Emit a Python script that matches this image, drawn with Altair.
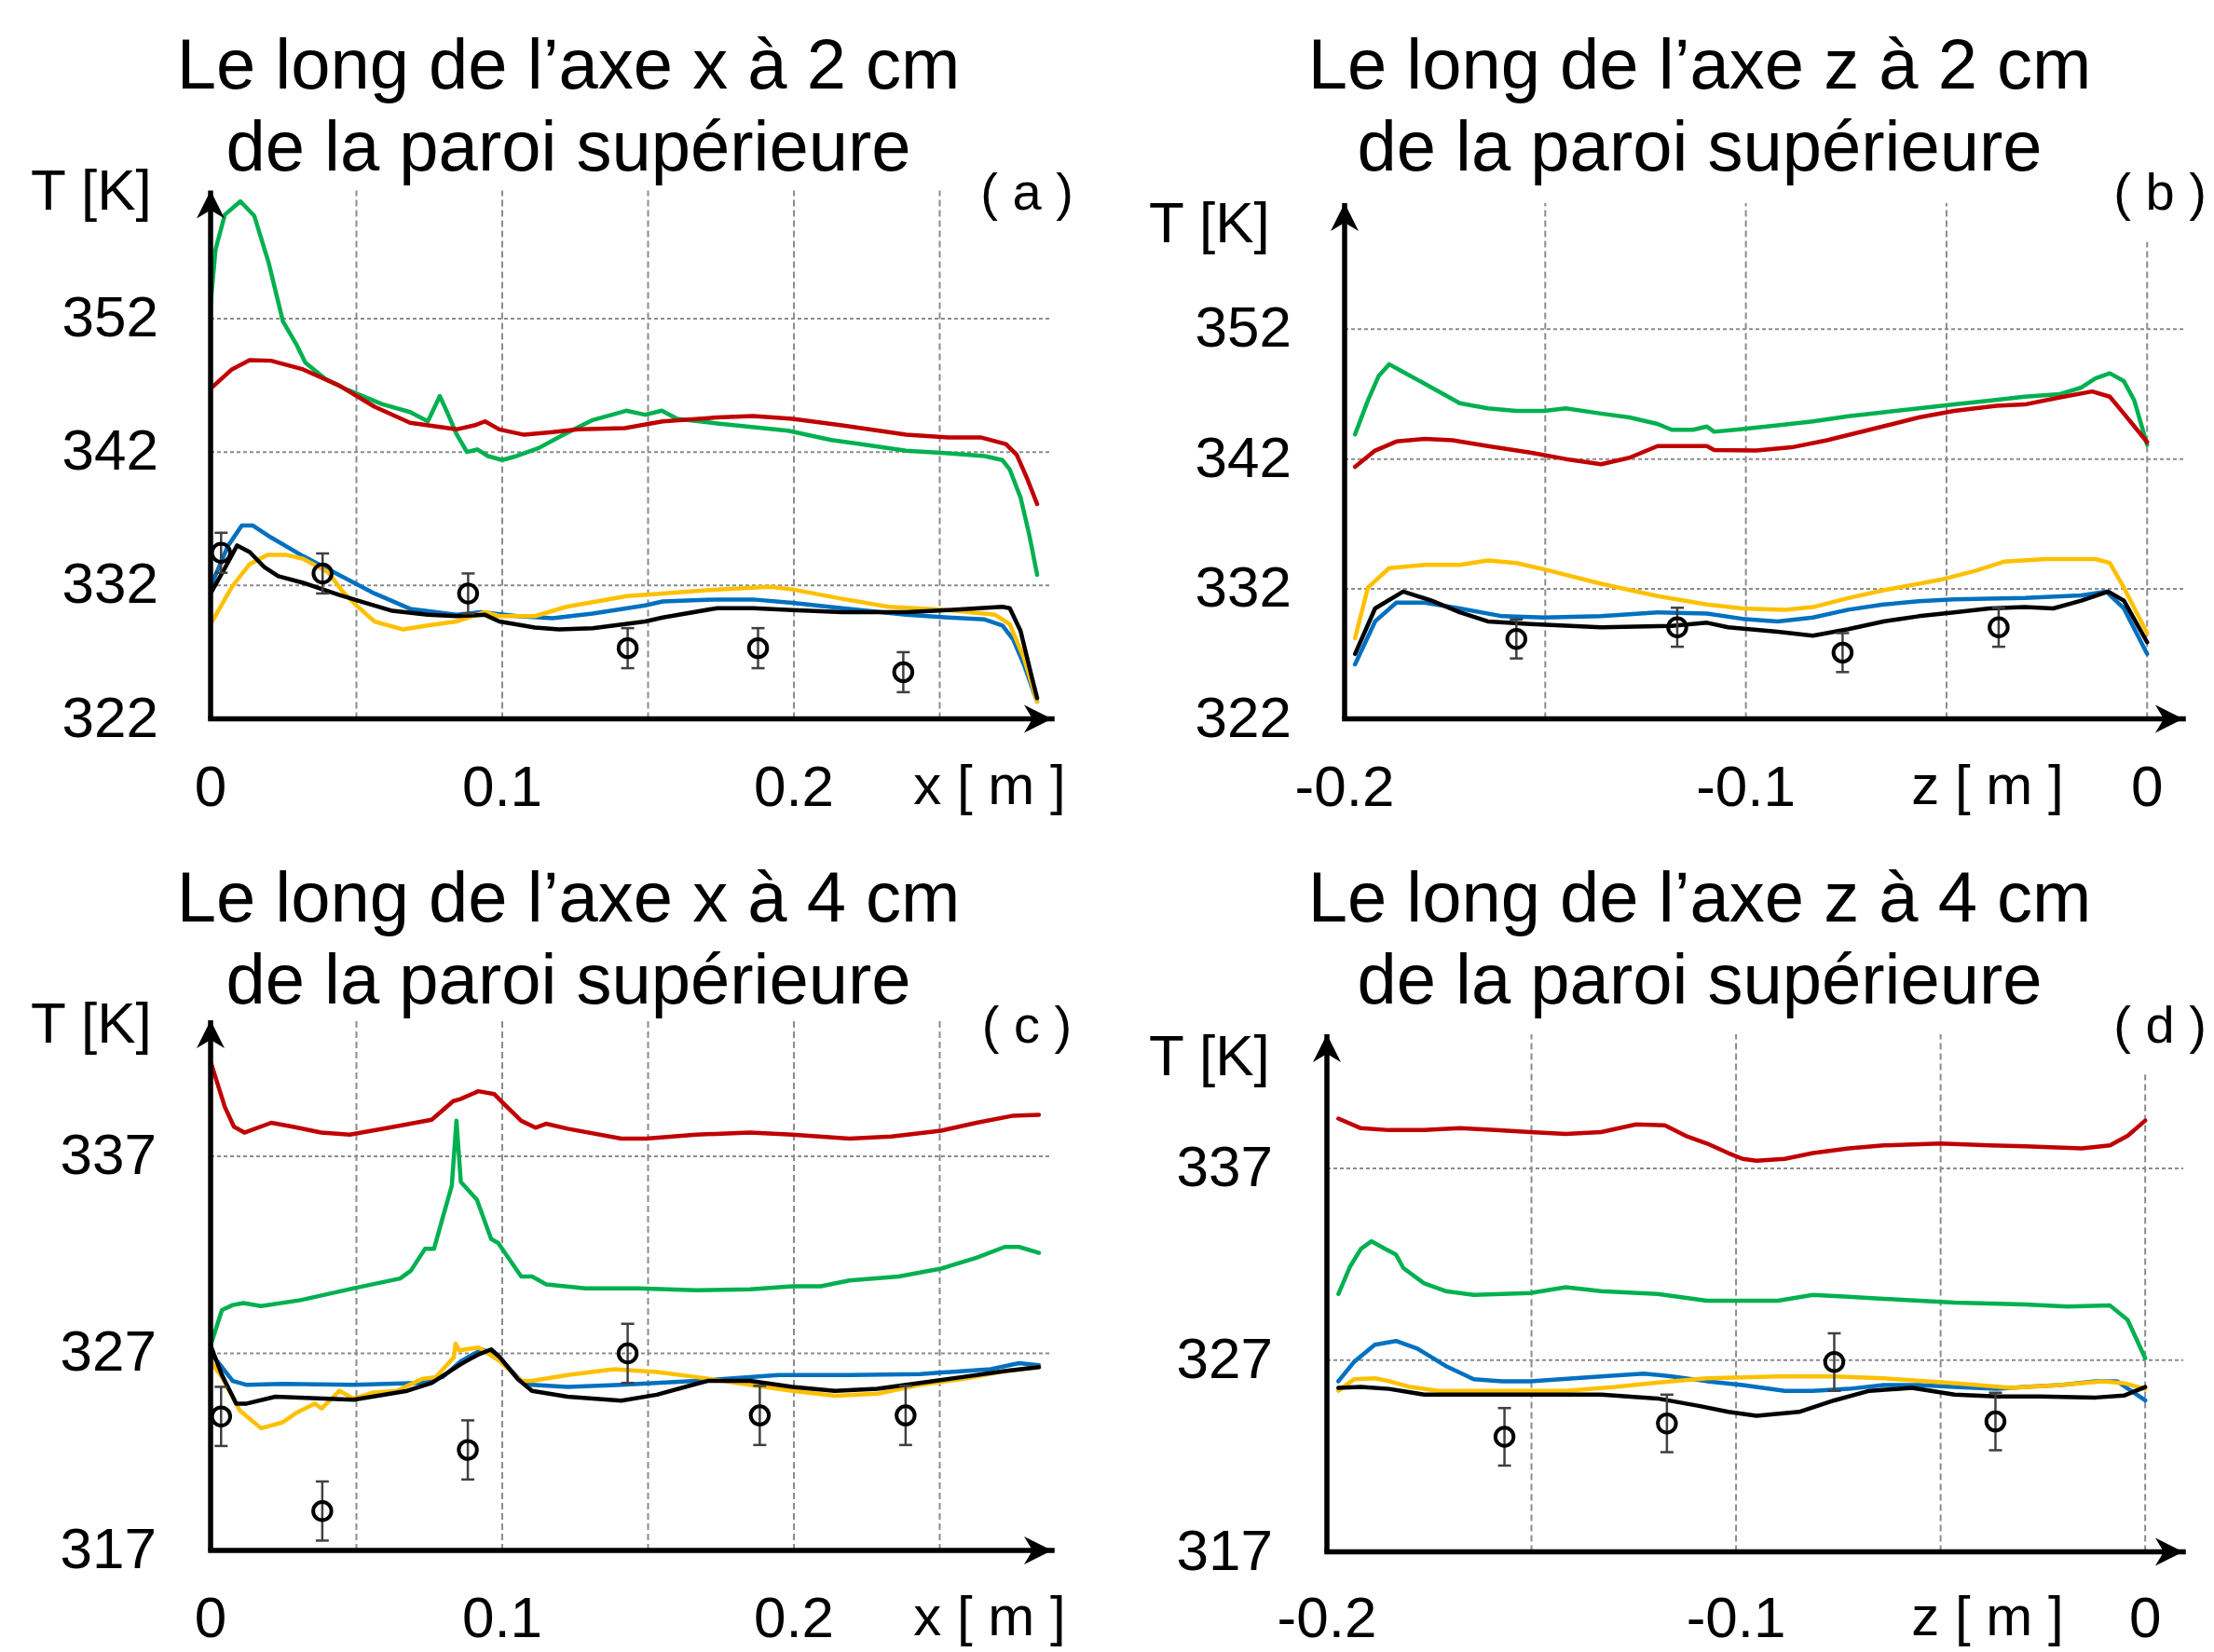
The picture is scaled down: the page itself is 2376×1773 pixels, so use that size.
import altair as alt
import pandas as pd

# ---------------------------------------------------------------- data
# Panel (a): along x, 2 cm from the upper wall
A_GREEN_X = [0, 0.0017, 0.0049, 0.0102, 0.0150, 0.0199, 0.0248, 0.0296, 0.0325, 0.0393,
             0.0466, 0.0587, 0.0684, 0.0745, 0.0786, 0.0811, 0.0842, 0.0879, 0.0915, 0.0951,
             0.1000, 0.1049, 0.1125, 0.121, 0.131, 0.1425, 0.149, 0.1547, 0.160, 0.1737,
             0.198, 0.2128, 0.2226, 0.2385, 0.253, 0.2654, 0.2715, 0.274, 0.2777, 0.2807, 0.2834]
A_GREEN_T = [353.1, 357.2, 359.8, 360.8, 359.7, 356.2, 351.8, 350.0, 348.7, 347.5,
             346.7, 345.6, 345.0, 344.3, 346.2, 345.0, 343.4, 342.0, 342.2, 341.7,
             341.4, 341.7, 342.3, 343.3, 344.4, 345.1, 344.8, 345.1, 344.5, 344.15,
             343.6, 342.9, 342.6, 342.1, 341.9, 341.7, 341.4, 340.7, 338.6, 335.8, 332.8]
A_RED_X = [0, 0.0073, 0.0134, 0.0207, 0.0317, 0.044, 0.0562, 0.0684, 0.0843, 0.0904,
           0.0941, 0.099, 0.1075, 0.1173, 0.126, 0.142, 0.155, 0.1737, 0.186, 0.1995,
           0.2165, 0.2385, 0.253, 0.264, 0.2727, 0.2764, 0.28, 0.2834]
A_RED_T = [346.75, 348.2, 348.9, 348.85, 348.2, 347.0, 345.4, 344.2, 343.7, 344.0,
           344.3, 343.7, 343.3, 343.5, 343.7, 343.8, 344.3, 344.6, 344.7, 344.5,
           344.0, 343.3, 343.1, 343.1, 342.6, 341.8, 340.0, 338.1]
A_BLUE_X = [0, 0.0058, 0.0107, 0.0144, 0.0207, 0.0317, 0.044, 0.0562, 0.0684, 0.0843,
            0.0928, 0.105, 0.1173, 0.131, 0.149, 0.155, 0.1737, 0.186, 0.1995, 0.2165,
            0.2385, 0.253, 0.2654, 0.2715, 0.2752, 0.2788, 0.2834]
A_BLUE_T = [331.9, 334.9, 336.5, 336.5, 335.6, 334.2, 332.8, 331.4, 330.25, 329.8,
            330.0, 329.7, 329.55, 329.9, 330.5, 330.8, 330.95, 330.95, 330.7, 330.3,
            329.8, 329.6, 329.45, 329.0, 327.95, 326.1, 323.3]
A_YELLOW_X = [0, 0.0073, 0.0134, 0.0195, 0.0257, 0.0317, 0.0403, 0.0451, 0.05, 0.0562,
              0.066, 0.0745, 0.0843, 0.0941, 0.099, 0.1112, 0.122, 0.1427, 0.155, 0.1737,
              0.192, 0.1995, 0.2165, 0.2324, 0.253, 0.269, 0.274, 0.2788, 0.2834]
A_YELLOW_T = [329.1, 331.9, 333.6, 334.3, 334.3, 334.0, 333.0, 331.6, 330.5, 329.3,
              328.7, 329.0, 329.3, 330.0, 329.7, 329.7, 330.4, 331.2, 331.4, 331.7,
              331.9, 331.7, 331.0, 330.4, 330.15, 329.8, 329.1, 326.6, 323.3]
A_BLACK_X = [0, 0.0049, 0.0091, 0.0134, 0.0183, 0.0232, 0.0317, 0.0378, 0.044, 0.05,
             0.0623, 0.0745, 0.0843, 0.0941, 0.099, 0.1112, 0.1195, 0.131, 0.149, 0.155,
             0.1737, 0.186, 0.1995, 0.2165, 0.2385, 0.253, 0.2715, 0.274, 0.2777, 0.2815, 0.2834]
A_BLACK_T = [331.4, 333.3, 335.0, 334.5, 333.4, 332.7, 332.2, 331.75, 331.3, 330.9,
             330.1, 329.8, 329.7, 329.8, 329.3, 328.85, 328.7, 328.8, 329.3, 329.6,
             330.3, 330.3, 330.15, 330.0, 330.0, 330.15, 330.4, 330.3, 328.6, 325.2, 323.55]
A_EXP_X = [0.0036, 0.0384, 0.0883, 0.143, 0.1877, 0.2375]
A_EXP_T = [334.45, 332.9, 331.4, 327.3, 327.3, 325.5]

# Panel (b): along z, 2 cm from the upper wall
B_GREEN_X = [-0.1974, -0.1942, -0.1915, -0.1889, -0.1854, -0.1783, -0.1713, -0.1643, -0.1572, -0.1502,
             -0.1449, -0.1361, -0.1290, -0.1220, -0.1185, -0.1132, -0.1097, -0.1079, -0.1009, -0.0921,
             -0.0833, -0.0745, -0.0657, -0.0569, -0.0481, -0.0393, -0.0305, -0.0217, -0.0164, -0.0129,
             -0.0093, -0.0058, -0.0032, 0.0]
B_GREEN_T = [343.9, 346.5, 348.4, 349.3, 348.7, 347.5, 346.3, 345.9, 345.7, 345.7,
             345.9, 345.5, 345.2, 344.7, 344.25, 344.25, 344.5, 344.1, 344.3, 344.6,
             344.9, 345.3, 345.6, 345.9, 346.2, 346.5, 346.8, 347.0, 347.5, 348.2,
             348.6, 348.0, 346.5, 343.1]
B_RED_X = [-0.1974, -0.1924, -0.1871, -0.1801, -0.1731, -0.1643, -0.1537, -0.1449, -0.1361, -0.1290,
           -0.1220, -0.1167, -0.1097, -0.1079, -0.0974, -0.0886, -0.0798, -0.0692, -0.0569, -0.0481,
           -0.0375, -0.0305, -0.0217, -0.0137, -0.0093, -0.0058, 0.0]
B_RED_T = [341.4, 342.65, 343.35, 343.55, 343.45, 343.0, 342.5, 342.0, 341.6, 342.1,
           343.0, 343.0, 343.0, 342.7, 342.65, 342.9, 343.45, 344.25, 345.2, 345.7,
           346.1, 346.2, 346.75, 347.2, 346.8, 345.5, 343.3]
B_BLUE_X = [-0.1974, -0.1924, -0.1871, -0.1801, -0.1713, -0.1607, -0.1502, -0.1361, -0.1220, -0.1097,
            -0.1009, -0.0921, -0.0833, -0.0745, -0.0657, -0.0569, -0.0481, -0.0305, -0.0164, -0.0102,
            -0.0058, 0.0]
B_BLUE_T = [326.2, 329.5, 330.95, 330.95, 330.5, 329.9, 329.8, 329.9, 330.2, 330.1,
            329.7, 329.5, 329.8, 330.4, 330.8, 331.05, 331.2, 331.3, 331.5, 331.8,
            330.5, 327.0]
B_YELLOW_X = [-0.1974, -0.1942, -0.1889, -0.1801, -0.1713, -0.1643, -0.1572, -0.1502, -0.1361, -0.1220,
              -0.1097, -0.1009, -0.0903, -0.0833, -0.0745, -0.0657, -0.0516, -0.0428, -0.0357, -0.0252,
              -0.0129, -0.0093, -0.0058, 0.0]
B_YELLOW_T = [328.2, 332.1, 333.6, 333.85, 333.85, 334.2, 334.0, 333.5, 332.4, 331.45,
              330.8, 330.5, 330.4, 330.6, 331.3, 331.9, 332.7, 333.4, 334.1, 334.3,
              334.3, 334.0, 332.1, 328.6]
B_BLACK_X = [-0.1974, -0.1924, -0.1854, -0.1783, -0.1713, -0.1643, -0.1537, -0.1361, -0.1185, -0.1097,
             -0.1044, -0.0921, -0.0833, -0.0745, -0.0657, -0.0569, -0.0481, -0.0393, -0.0305, -0.0234,
             -0.0164, -0.0097, -0.0058, 0.0]
B_BLACK_T = [327.0, 330.5, 331.8, 331.1, 330.2, 329.5, 329.3, 329.05, 329.15, 329.4,
             329.05, 328.7, 328.4, 328.9, 329.5, 329.9, 330.2, 330.5, 330.6, 330.5,
             331.1, 331.8, 331.1, 327.9]
B_EXP_X = [-0.1572, -0.1171, -0.0759, -0.0370]
B_EXP_T = [328.15, 329.05, 327.1, 329.05]

# Panel (c): along x, 4 cm from the upper wall
C_GREEN_X = [0, 0.0039, 0.0076, 0.0112, 0.0173, 0.0308, 0.0491, 0.065, 0.0687, 0.0735,
             0.0766, 0.0796, 0.0827, 0.0843, 0.0858, 0.0913, 0.0962, 0.0986, 0.1065, 0.1102,
             0.1151, 0.1286, 0.1469, 0.1665, 0.185, 0.1995, 0.2092, 0.219, 0.2359, 0.2505,
             0.2626, 0.2723, 0.2772, 0.284]
C_GREEN_T = [327.4, 329.2, 329.45, 329.55, 329.4, 329.7, 330.3, 330.8, 331.2, 332.3,
             332.3, 333.9, 335.5, 338.8, 335.7, 334.8, 332.8, 332.6, 330.9, 330.9,
             330.5, 330.3, 330.3, 330.2, 330.25, 330.4, 330.4, 330.7, 330.9, 331.3,
             331.85, 332.4, 332.4, 332.1]
C_RED_X = [0, 0.0049, 0.008, 0.0116, 0.0208, 0.0282, 0.0379, 0.0477, 0.0612, 0.0758,
           0.0832, 0.0856, 0.0918, 0.0973, 0.1003, 0.1065, 0.1114, 0.115, 0.1224, 0.1408,
           0.1493, 0.1665, 0.185, 0.1995, 0.219, 0.2335, 0.2505, 0.2626, 0.2748, 0.284]
C_RED_T = [341.8, 339.5, 338.5, 338.2, 338.7, 338.5, 338.2, 338.1, 338.45, 338.85,
           339.8, 339.9, 340.3, 340.15, 339.7, 338.8, 338.45, 338.65, 338.4, 337.9,
           337.9, 338.1, 338.2, 338.1, 337.9, 338.0, 338.3, 338.7, 339.05, 339.1]
C_BLUE_X = [0, 0.0039, 0.0076, 0.0124, 0.0247, 0.0491, 0.0711, 0.0796, 0.0858, 0.0931,
            0.098, 0.1065, 0.1102, 0.1224, 0.1408, 0.1665, 0.1947, 0.219, 0.2432, 0.2675,
            0.2772, 0.284]
C_BLUE_T = [327.0, 326.3, 325.6, 325.4, 325.45, 325.4, 325.5, 325.8, 326.6, 327.2,
            326.9, 325.6, 325.4, 325.3, 325.4, 325.6, 325.9, 325.9, 325.95, 326.2,
            326.5, 326.4]
C_YELLOW_X = [0, 0.0039, 0.01, 0.0173, 0.0247, 0.0296, 0.0357, 0.0381, 0.0442, 0.0491,
              0.0553, 0.0638, 0.0724, 0.0773, 0.0834, 0.084, 0.0852, 0.0919, 0.0992, 0.1065,
              0.1102, 0.1224, 0.1383, 0.153, 0.1665, 0.185, 0.1995, 0.2141, 0.2286, 0.2432,
              0.2578, 0.2723, 0.284]
C_YELLOW_T = [326.6, 325.8, 324.1, 323.2, 323.5, 324.0, 324.45, 324.2, 325.1, 324.7,
              325.0, 325.1, 325.7, 325.8, 326.8, 327.5, 327.15, 327.3, 326.6, 325.6,
              325.6, 325.9, 326.2, 326.05, 325.8, 325.4, 325.1, 324.85, 324.95, 325.4,
              325.7, 326.1, 326.3]
C_BLACK_X = [0, 0.0039, 0.0088, 0.0124, 0.0222, 0.0491, 0.0674, 0.0759, 0.0858, 0.0919,
             0.0962, 0.0992, 0.1053, 0.1102, 0.1224, 0.1408, 0.153, 0.1665, 0.1704, 0.185,
             0.1995, 0.2141, 0.2286, 0.2432, 0.2578, 0.2723, 0.284]
C_BLACK_T = [327.4, 325.9, 324.45, 324.45, 324.8, 324.65, 325.1, 325.5, 326.45, 326.95,
             327.2, 326.8, 325.7, 325.1, 324.8, 324.6, 324.9, 325.45, 325.6, 325.6,
             325.3, 325.1, 325.2, 325.5, 325.8, 326.1, 326.3]
C_EXP_X = [0.0036, 0.0383, 0.0882, 0.143, 0.1883, 0.2383]
C_EXP_T = [323.8, 319.0, 322.1, 327.0, 323.85, 323.85]

# Panel (d): along z, 4 cm from the upper wall
D_GREEN_X = [-0.1972, -0.1943, -0.1917, -0.1891, -0.1857, -0.1831, -0.1813, -0.1762, -0.1710, -0.1641,
             -0.1572, -0.1503, -0.1416, -0.1330, -0.1192, -0.1071, -0.0984, -0.0898, -0.0812, -0.0725,
             -0.0639, -0.0466, -0.0294, -0.0190, -0.0086, -0.0043, 0.0]
D_GREEN_T = [330.45, 331.9, 332.8, 333.2, 332.8, 332.5, 331.8, 331.0, 330.6, 330.4,
             330.45, 330.5, 330.8, 330.6, 330.45, 330.1, 330.1, 330.1, 330.4, 330.3,
             330.2, 330.0, 329.9, 329.8, 329.85, 329.1, 327.1]
D_RED_X = [-0.1972, -0.1917, -0.1848, -0.1762, -0.1675, -0.1589, -0.1503, -0.1416, -0.1330, -0.1244,
           -0.1174, -0.1123, -0.1071, -0.1019, -0.0984, -0.0950, -0.0881, -0.0812, -0.0725, -0.0639,
           -0.0501, -0.0380, -0.0294, -0.0155, -0.0086, -0.0043, 0.0]
D_RED_T = [339.6, 339.1, 339.0, 339.0, 339.1, 339.0, 338.9, 338.8, 338.9, 339.3,
           339.25, 338.7, 338.3, 337.8, 337.5, 337.4, 337.5, 337.8, 338.05, 338.2,
           338.3, 338.2, 338.15, 338.05, 338.2, 338.7, 339.5]
D_BLUE_X = [-0.1972, -0.1934, -0.1883, -0.1831, -0.1779, -0.1710, -0.1641, -0.1572, -0.1503, -0.1330,
            -0.1226, -0.1157, -0.1071, -0.0984, -0.0881, -0.0812, -0.0725, -0.0639, -0.0553, -0.0466,
            -0.0363, -0.0294, -0.0207, -0.0121, -0.0069, 0.0]
D_BLUE_T = [325.9, 326.9, 327.8, 328.0, 327.6, 326.7, 326.0, 325.9, 325.9, 326.15,
            326.3, 326.15, 325.9, 325.7, 325.4, 325.4, 325.5, 325.7, 325.7, 325.6,
            325.5, 325.6, 325.7, 325.9, 325.9, 324.9]
D_YELLOW_X = [-0.1972, -0.1934, -0.1883, -0.1848, -0.1796, -0.1727, -0.1589, -0.1416, -0.1295, -0.1157,
              -0.1071, -0.0898, -0.0760, -0.0639, -0.0466, -0.0328, -0.0207, -0.0104, -0.0052, 0.0]
D_YELLOW_T = [325.4, 326.0, 326.05, 325.9, 325.6, 325.4, 325.4, 325.4, 325.6, 325.9,
              326.05, 326.15, 326.15, 326.05, 325.8, 325.55, 325.7, 325.9, 325.8, 325.5]
D_BLACK_X = [-0.1972, -0.1917, -0.1848, -0.1762, -0.1675, -0.1503, -0.1330, -0.1192, -0.1088, -0.1019,
             -0.0950, -0.0846, -0.0760, -0.0674, -0.0570, -0.0466, -0.0363, -0.0259, -0.0121, -0.0052, 0.0]
D_BLACK_T = [325.55, 325.6, 325.5, 325.2, 325.2, 325.2, 325.2, 325.0, 324.6, 324.3,
             324.1, 324.3, 324.9, 325.4, 325.55, 325.2, 325.1, 325.1, 325.05, 325.15, 325.6]
D_EXP_X = [-0.1566, -0.1169, -0.0760, -0.0366]
D_EXP_T = [323.0, 323.7, 326.9, 323.8]

EXP_ERR = 1.5

# ticks / labels
Y_TICKS_TOP = [322, 332, 342, 352]
Y_TICKS_BOTTOM = [317, 327, 337]
X_TICKS = [0, 0.1, 0.2]
X_TICK_LABELS = ["0", "0.1", "0.2"]
Z_TICKS = [-0.2, -0.1, 0]
Z_TICK_LABELS = ["-0.2", "-0.1", "0"]
X_GRID = [0.05, 0.1, 0.15, 0.2, 0.25]
Z_GRID = [-0.15, -0.1, -0.05, 0]

TITLES = {
    "a": ["Le long de l’axe x à 2 cm", "de la paroi supérieure"],
    "b": ["Le long de l’axe z à 2 cm", "de la paroi supérieure"],
    "c": ["Le long de l’axe x à 4 cm", "de la paroi supérieure"],
    "d": ["Le long de l’axe z à 4 cm", "de la paroi supérieure"],
}

# ---------------------------------------------------------------- style
COLORS = {"green": "#00B050", "red": "#C00000", "blue": "#0070C0",
          "yellow": "#FFC000", "black": "#000000"}
FONT = "Liberation Sans"
GRID = "#8c8c8c"
W, H = 2360, 1765

UP_ARROW = "M0,0L1,2L0,1.4L-1,2Z"
RIGHT_ARROW = "M0,0L-2,-1L-1.4,0L-2,1Z"
CAP = "M-1,0L1,0"

ONE = pd.DataFrame({"k": [0]})

PANELS = [
    dict(key="a", xdom=[0, 0.2885], xrng=[218, 1121], ydom=[322, 361.6], yrng=[763.5, 196.6],
         hgrid=[332, 342, 352], vgrid=X_GRID, vtop0=None, yticks=Y_TICKS_TOP, ylab_dx=-56,
         xticks=X_TICKS, xlabels=X_TICK_LABELS, xlab_y=857, axlab="x [ m ]", axlab_pos=(1054, 855),
         title_x=602, title_y=(87, 175), tk_pos=(25, 217), letter="( a )", letter_pos=(1094, 217),
         series={"green": (A_GREEN_X, A_GREEN_T), "red": (A_RED_X, A_RED_T),
                 "blue": (A_BLUE_X, A_BLUE_T), "yellow": (A_YELLOW_X, A_YELLOW_T),
                 "black": (A_BLACK_X, A_BLACK_T)},
         exp=(A_EXP_X, A_EXP_T)),
    dict(key="b", xdom=[-0.2, 0.009], xrng=[1435, 2335], ydom=[322, 361.7], yrng=[763.5, 210],
         hgrid=[332, 342, 352], vgrid=Z_GRID, vtop0=358.7, yticks=Y_TICKS_TOP, ylab_dx=-57,
         xticks=Z_TICKS, xlabels=Z_TICK_LABELS, xlab_y=857, axlab="z [ m ]", axlab_pos=(2125, 855),
         title_x=1816, title_y=(87, 175), tk_pos=(1225, 252), letter="( b )", letter_pos=(2310, 217),
         series={"green": (B_GREEN_X, B_GREEN_T), "red": (B_RED_X, B_RED_T),
                 "blue": (B_BLUE_X, B_BLUE_T), "yellow": (B_YELLOW_X, B_YELLOW_T),
                 "black": (B_BLACK_X, B_BLACK_T)},
         exp=(B_EXP_X, B_EXP_T)),
    dict(key="c", xdom=[0, 0.2885], xrng=[218, 1121], ydom=[317, 343.9], yrng=[1656, 1087],
         hgrid=[327, 337], vgrid=X_GRID, vtop0=None, yticks=Y_TICKS_BOTTOM, ylab_dx=-58,
         xticks=X_TICKS, xlabels=X_TICK_LABELS, xlab_y=1749, axlab="x [ m ]", axlab_pos=(1054, 1747),
         title_x=602, title_y=(981, 1069), tk_pos=(25, 1111), letter="( c )", letter_pos=(1094, 1111),
         series={"green": (C_GREEN_X, C_GREEN_T), "red": (C_RED_X, C_RED_T),
                 "blue": (C_BLUE_X, C_BLUE_T), "yellow": (C_YELLOW_X, C_YELLOW_T),
                 "black": (C_BLACK_X, C_BLACK_T)},
         exp=(C_EXP_X, C_EXP_T)),
    dict(key="d", xdom=[-0.2, 0.0093], xrng=[1416, 2335], ydom=[317, 344.0], yrng=[1657.5, 1102],
         hgrid=[327, 337], vgrid=Z_GRID, vtop0=341.9, yticks=Y_TICKS_BOTTOM, ylab_dx=-58,
         xticks=Z_TICKS, xlabels=Z_TICK_LABELS, xlab_y=1749, axlab="z [ m ]", axlab_pos=(2125, 1747),
         title_x=1816, title_y=(981, 1069), tk_pos=(1225, 1146), letter="( d )", letter_pos=(2310, 1111),
         series={"green": (D_GREEN_X, D_GREEN_T), "red": (D_RED_X, D_RED_T),
                 "blue": (D_BLUE_X, D_BLUE_T), "yellow": (D_YELLOW_X, D_YELLOW_T),
                 "black": (D_BLACK_X, D_BLACK_T)},
         exp=(D_EXP_X, D_EXP_T)),
]


def text_at(txt, x, y, size, align="left", baseline="alphabetic"):
    return alt.Chart(ONE).mark_text(text=txt, font=FONT, fontSize=size, color="black",
                                    align=align, baseline=baseline).encode(
        x=alt.value(x), y=alt.value(y))


def build_panel(p):
    xs = alt.Scale(domain=p["xdom"], range=p["xrng"], zero=False, nice=False)
    ys = alt.Scale(domain=p["ydom"], range=p["yrng"], zero=False, nice=False)

    def X(f):
        return alt.X(f"{f}:Q", scale=xs, axis=None)

    def Y(f):
        return alt.Y(f"{f}:Q", scale=ys, axis=None)

    x0, xend = p["xdom"]
    y0, ytop = p["ydom"]
    layers = []

    # horizontal dotted grid
    hg = pd.DataFrame({"T": p["hgrid"], "xa": x0, "xb": xend})
    layers.append(alt.Chart(hg).mark_rule(color=GRID, strokeWidth=2, strokeDash=[4, 3]).encode(
        x=X("xa"), x2=alt.X2("xb"), y=Y("T")))

    # vertical dashed grid
    tops = [ytop if (p["vtop0"] is None or v != 0) else p["vtop0"] for v in p["vgrid"]]
    vg = pd.DataFrame({"x": p["vgrid"], "ya": y0, "yb": tops})
    layers.append(alt.Chart(vg).mark_rule(color=GRID, strokeWidth=2, strokeDash=[7, 4]).encode(
        x=X("x"), y=Y("ya"), y2=alt.Y2("yb")))

    # simulated profiles
    for name in ["green", "red", "blue", "yellow", "black"]:
        xv, tv = p["series"][name]
        df = pd.DataFrame({"x": xv, "T": tv})
        layers.append(alt.Chart(df).mark_line(color=COLORS[name], strokeWidth=4.5,
                                              strokeJoin="round", strokeCap="round").encode(
            x=X("x"), y=Y("T")))

    # axes lines
    ya = pd.DataFrame({"x": [x0], "ya": [y0], "yb": [ytop]})
    layers.append(alt.Chart(ya).mark_rule(color="black", strokeWidth=5.5).encode(
        x=X("x"), y=Y("ya"), y2=alt.Y2("yb")))
    xa = pd.DataFrame({"xa": [x0], "xb": [xend], "y": [y0]})
    layers.append(alt.Chart(xa).mark_rule(color="black", strokeWidth=5.5, strokeCap="square").encode(
        x=X("xa"), x2=alt.X2("xb"), y=Y("y")))
    up = pd.DataFrame({"x": [x0], "y": [ytop]})
    layers.append(alt.Chart(up).mark_point(shape=UP_ARROW, size=900, filled=True, color="black",
                                           opacity=1, strokeWidth=0).encode(x=X("x"), y=Y("y")))
    rt = pd.DataFrame({"x": [xend], "y": [y0]})
    layers.append(alt.Chart(rt).mark_point(shape=RIGHT_ARROW, size=900, filled=True, color="black",
                                           opacity=1, strokeWidth=0).encode(x=X("x"), y=Y("y")))

    # experimental points with error bars
    ex, et = p["exp"]
    ed = pd.DataFrame({"x": ex, "T": et})
    ed["lo"] = ed["T"] - EXP_ERR
    ed["hi"] = ed["T"] + EXP_ERR
    layers.append(alt.Chart(ed).mark_rule(color="#404040", strokeWidth=2.5).encode(
        x=X("x"), y=Y("lo"), y2=alt.Y2("hi")))
    for f in ["lo", "hi"]:
        layers.append(alt.Chart(ed).mark_point(shape=CAP, size=196, filled=False, color="#404040",
                                               opacity=1, strokeWidth=2.5).encode(x=X("x"), y=Y(f)))
    layers.append(alt.Chart(ed).mark_point(shape="circle", size=380, filled=False, color="black",
                                           opacity=1, strokeWidth=4).encode(x=X("x"), y=Y("T")))

    # tick labels
    yl = pd.DataFrame({"T": p["yticks"], "x": x0, "lab": [str(v) for v in p["yticks"]]})
    layers.append(alt.Chart(yl).mark_text(font=FONT, fontSize=62, color="black", align="right",
                                          baseline="middle", dx=p["ylab_dx"]).encode(
        x=X("x"), y=Y("T"), text="lab:N"))
    xl = pd.DataFrame({"x": p["xticks"], "lab": p["xlabels"]})
    layers.append(alt.Chart(xl).mark_text(font=FONT, fontSize=62, color="black", align="center",
                                          baseline="alphabetic").encode(
        x=X("x"), y=alt.value(p["xlab_y"]), text="lab:N"))

    # annotations
    layers.append(text_at(p["axlab"], p["axlab_pos"][0], p["axlab_pos"][1], 60, align="center"))
    layers.append(text_at("T [K]", p["tk_pos"][0], p["tk_pos"][1], 62, align="left"))
    layers.append(text_at(p["letter"], p["letter_pos"][0], p["letter_pos"][1], 56, align="center"))
    t1, t2 = TITLES[p["key"]]
    layers.append(text_at(t1, p["title_x"], p["title_y"][0], 76, align="center"))
    layers.append(text_at(t2, p["title_x"], p["title_y"][1], 76, align="center"))

    return alt.layer(*layers)


chart = alt.layer(*[build_panel(p) for p in PANELS]).resolve_scale(
    x="independent", y="independent"
).properties(
    width=W, height=H, padding=0,
    autosize=alt.AutoSizeParams(type="none"),
    background="white",
).configure_view(stroke=None)

chart.save("out.html", embed_options={"renderer": "svg", "actions": False})
